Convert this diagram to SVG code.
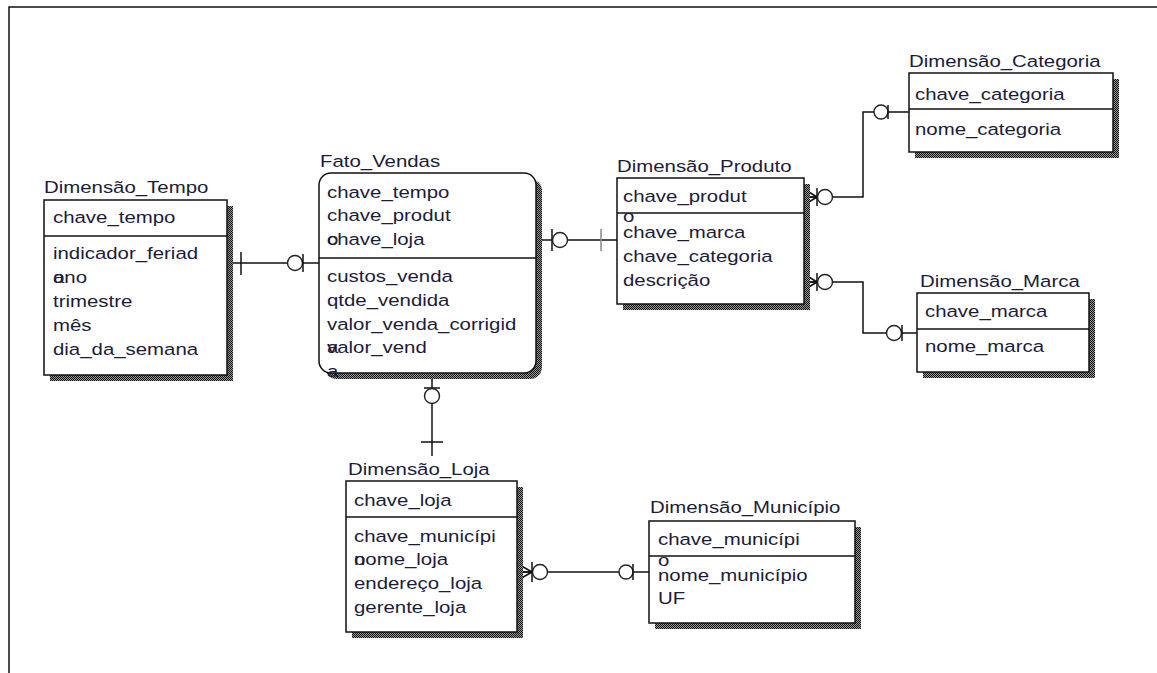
<svg xmlns="http://www.w3.org/2000/svg" width="1157" height="673" viewBox="0 0 1157 673">
<defs>
<pattern id="chk" width="2" height="2" patternUnits="userSpaceOnUse">
<rect width="2" height="2" fill="#9a9a9a"/>
<rect x="0" y="0" width="1" height="1" fill="#111"/>
<rect x="1" y="1" width="1" height="1" fill="#111"/>
</pattern>
<style>
.box{fill:#fff;stroke:#111;stroke-width:1.5}
.shd{fill:url(#chk);stroke:none}
.sep{stroke:#111;stroke-width:1.3}
.t{font-family:"Liberation Sans",Arial,sans-serif;font-size:17px;fill:#1c1c3a}
.ln{fill:none;stroke:#111;stroke-width:1.5}
.cir{fill:#fff;stroke:#222;stroke-width:1.4}
.frame{stroke:#111;stroke-width:1.5;fill:none}
</style>
</defs>
<rect width="1157" height="673" fill="#fff"/>
<path class="frame" d="M9 673 V7 H1157"/>

<g id="connectors">
<!-- Tempo - Fato -->
<line class="ln" x1="227" y1="263" x2="319" y2="263"/>
<line class="ln" x1="241" y1="252" x2="241" y2="275"/>
<circle class="cir" cx="295" cy="263" r="7.5"/>
<line class="ln" x1="303" y1="254" x2="303" y2="272"/>
<!-- Fato - Produto -->
<line class="ln" x1="536" y1="240" x2="617" y2="240"/>
<line class="ln" x1="552" y1="229" x2="552" y2="251"/>
<circle class="cir" cx="560" cy="240" r="7.5"/>
<line x1="601" y1="229" x2="601" y2="251" stroke="#888" stroke-width="1.5"/>
<!-- Fato - Loja -->
<line class="ln" x1="432" y1="373" x2="432" y2="456"/>
<line class="ln" x1="424" y1="388" x2="440" y2="388"/>
<circle class="cir" cx="432" cy="396" r="7.5"/>
<line class="ln" x1="421" y1="442" x2="443" y2="442"/>
<!-- Produto - Categoria -->
<polyline class="ln" points="804,197 863,197 863,112 909,112"/>
<path class="ln" d="M804 189 L817 197 M804 197 L817 197 M804 205 L817 197 M817 188 V206"/>
<circle class="cir" cx="825" cy="197" r="7.5"/>
<circle class="cir" cx="881" cy="112" r="7"/>
<line class="ln" x1="888" y1="105" x2="888" y2="119"/>
<!-- Produto - Marca -->
<polyline class="ln" points="804,282 863,282 863,333 917,333"/>
<path class="ln" d="M804 274 L817 282 M804 282 L817 282 M804 290 L817 282 M817 273 V291"/>
<circle class="cir" cx="825" cy="282" r="7.5"/>
<circle class="cir" cx="894" cy="333" r="7.5"/>
<line class="ln" x1="902" y1="325" x2="902" y2="341"/>
<!-- Loja - Municipio -->
<line class="ln" x1="517" y1="572" x2="649" y2="572"/>
<path class="ln" d="M518 564 L532 572 M518 572 L532 572 M518 580 L532 572 M532 562 V582"/>
<circle class="cir" cx="540" cy="572" r="7.5"/>
<circle class="cir" cx="626" cy="572" r="7"/>
<line class="ln" x1="633" y1="564" x2="633" y2="580"/>
</g>

<g id="tempo">
<rect class="shd" x="50" y="206" width="183" height="175"/>
<rect class="box" x="44" y="200" width="183" height="175"/>
<line class="sep" x1="44" y1="236" x2="227" y2="236"/>
<g transform="translate(44 0) scale(1.2 1)"><text class="t" x="0" y="193">Dimensão_Tempo</text></g>
<g transform="translate(53 0) scale(1.2 1)">
<text class="t" x="0" y="223">chave_tempo</text>
<text class="t" x="0" y="259">indicador_feriad</text>
<text class="t" x="0" y="283">o</text>
<text class="t" x="0" y="283">ano</text>
<text class="t" x="0" y="307">trimestre</text>
<text class="t" x="0" y="331">mês</text>
<text class="t" x="0" y="355">dia_da_semana</text>
</g>
</g>

<g id="fato">
<rect class="shd" x="325" y="179" width="217" height="200" rx="12"/>
<rect class="box" x="319" y="173" width="217" height="200" rx="12"/>
<line class="sep" x1="319" y1="258" x2="536" y2="258"/>
<g transform="translate(320 0) scale(1.2 1)"><text class="t" x="0" y="167">Fato_Vendas</text></g>
<g transform="translate(327 0) scale(1.2 1)">
<text class="t" x="0" y="198">chave_tempo</text>
<text class="t" x="0" y="221">chave_produt</text>
<text class="t" x="0" y="245">o</text>
<text class="t" x="0" y="245">chave_loja</text>
<text class="t" x="0" y="282">custos_venda</text>
<text class="t" x="0" y="306">qtde_vendida</text>
<text class="t" x="0" y="330">valor_venda_corrigid</text>
<text class="t" x="0" y="353">a</text>
<text class="t" x="0" y="353">valor_vend</text>
<text class="t" x="0" y="377">a</text>
</g>
</g>

<g id="produto">
<rect class="shd" x="623" y="184" width="187" height="126"/>
<rect class="box" x="617" y="178" width="187" height="126"/>
<line class="sep" x1="617" y1="213" x2="804" y2="213"/>
<g transform="translate(617 0) scale(1.2 1)"><text class="t" x="0" y="172">Dimensão_Produto</text></g>
<g transform="translate(623 0) scale(1.2 1)">
<text class="t" x="0" y="202">chave_produt</text>
<text class="t" x="0" y="222">o</text>
<text class="t" x="0" y="238">chave_marca</text>
<text class="t" x="0" y="262">chave_categoria</text>
<text class="t" x="0" y="286">descrição</text>
</g>
</g>

<g id="categoria">
<rect class="shd" x="915" y="79" width="204" height="79"/>
<rect class="box" x="909" y="73" width="204" height="79"/>
<line class="sep" x1="909" y1="109" x2="1113" y2="109"/>
<g transform="translate(909 0) scale(1.2 1)"><text class="t" x="0" y="67">Dimensão_Categoria</text></g>
<g transform="translate(915 0) scale(1.2 1)">
<text class="t" x="0" y="100">chave_categoria</text>
<text class="t" x="0" y="135">nome_categoria</text>
</g>
</g>

<g id="marca">
<rect class="shd" x="923" y="299" width="172" height="79"/>
<rect class="box" x="917" y="293" width="172" height="79"/>
<line class="sep" x1="917" y1="329" x2="1089" y2="329"/>
<g transform="translate(920 0) scale(1.2 1)"><text class="t" x="0" y="287">Dimensão_Marca</text></g>
<g transform="translate(925 0) scale(1.2 1)">
<text class="t" x="0" y="317">chave_marca</text>
<text class="t" x="0" y="352">nome_marca</text>
</g>
</g>

<g id="loja">
<rect class="shd" x="352" y="487" width="171" height="151"/>
<rect class="box" x="346" y="481" width="171" height="151"/>
<line class="sep" x1="346" y1="517" x2="517" y2="517"/>
<g transform="translate(348 0) scale(1.2 1)"><text class="t" x="0" y="475">Dimensão_Loja</text></g>
<g transform="translate(354 0) scale(1.2 1)">
<text class="t" x="0" y="506">chave_loja</text>
<text class="t" x="0" y="542">chave_municípi</text>
<text class="t" x="0" y="565">o</text>
<text class="t" x="0" y="565">nome_loja</text>
<text class="t" x="0" y="589">endereço_loja</text>
<text class="t" x="0" y="613">gerente_loja</text>
</g>
</g>

<g id="municipio">
<rect class="shd" x="655" y="527" width="206" height="102"/>
<rect class="box" x="649" y="521" width="206" height="102"/>
<line class="sep" x1="649" y1="556" x2="855" y2="556"/>
<g transform="translate(650 0) scale(1.2 1)"><text class="t" x="0" y="513">Dimensão_Município</text></g>
<g transform="translate(658 0) scale(1.2 1)">
<text class="t" x="0" y="545">chave_municípi</text>
<text class="t" x="0" y="566">o</text>
<text class="t" x="0" y="581">nome_município</text>
<text class="t" x="0" y="604">UF</text>
</g>
</g>
</svg>
